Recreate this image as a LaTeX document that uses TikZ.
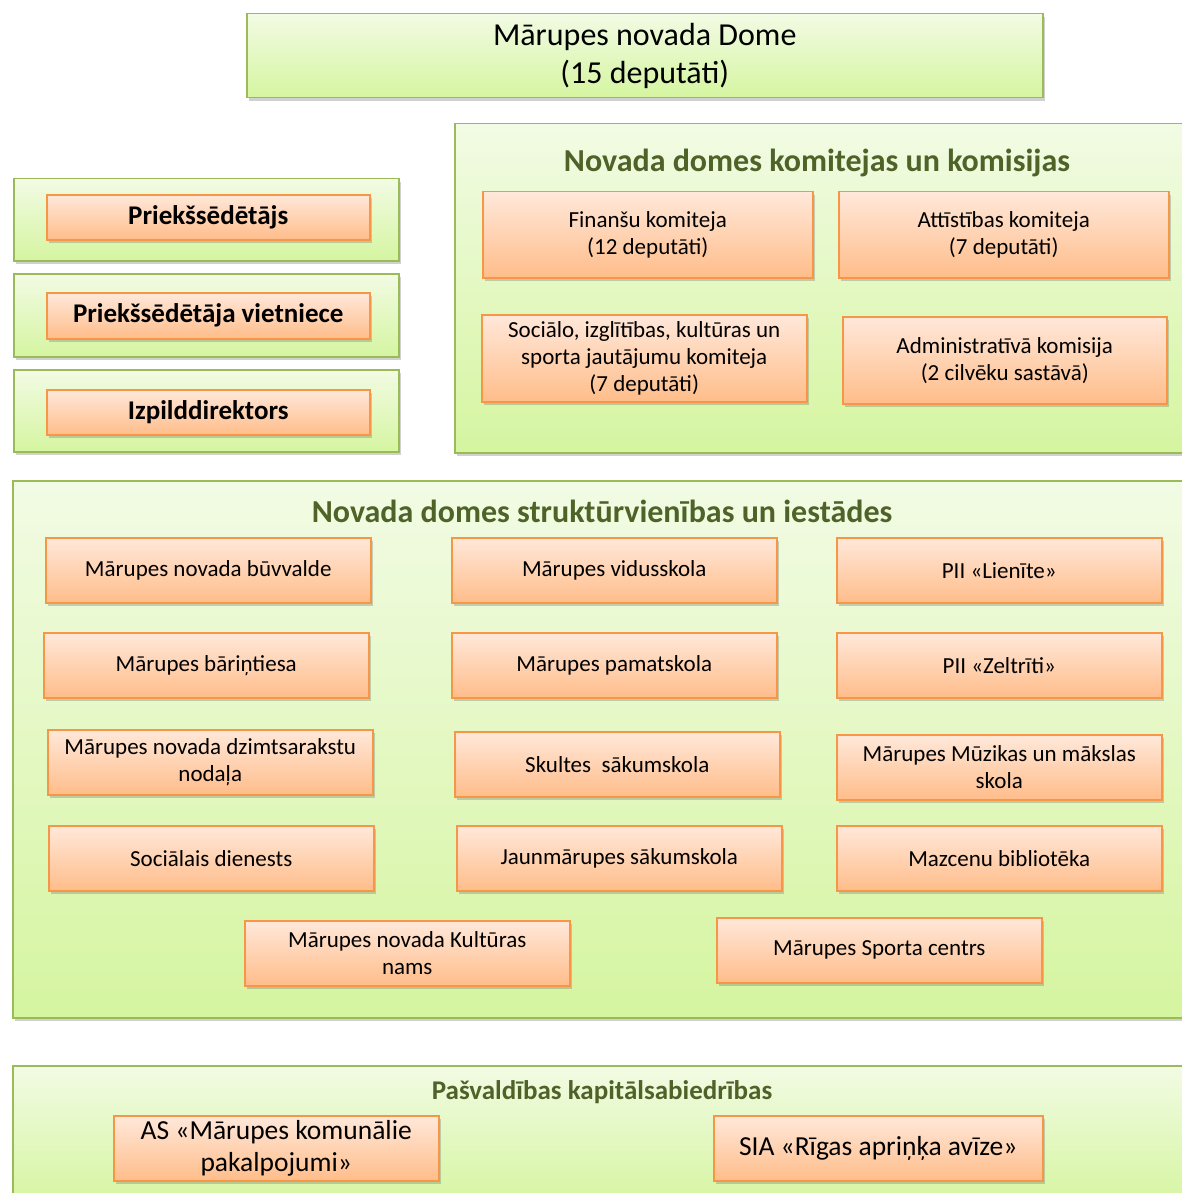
\documentclass[tikz,border=0pt]{standalone}
\usepackage{fontspec}
\setmainfont{Carlito}
\usetikzlibrary{shadows}
\definecolor{greenline}{HTML}{9BBB59}
\definecolor{greentop}{HTML}{F2FBE4}
\definecolor{greenbot}{HTML}{D5F5A0}
\definecolor{orangeline}{HTML}{F79646}
\definecolor{orangetop}{HTML}{FFE8DA}
\definecolor{orangebot}{HTML}{FFBD8A}
\definecolor{titlegreen}{HTML}{4F6228}

\begin{document}
\begin{tikzpicture}[x=1pt, y=-1pt,
    panel/.style = {draw=greenline, line width=1.5pt, top color=greentop, bottom color=greenbot,
        anchor=north west, inner sep=0pt, align=center,
        drop shadow={shadow xshift=2pt, shadow yshift=-3pt, opacity=0.3, fill=black!60}},
    obox/.style = {draw=orangeline, line width=1.5pt, top color=orangetop, bottom color=orangebot,
        anchor=north west, inner sep=0pt, align=center, minimum width=325, minimum height=65,
        font=\fontsize{23}{27}\selectfont,
        drop shadow={shadow xshift=2pt, shadow yshift=-3pt, opacity=0.3, fill=black!60}},
    chief/.style = {obox, minimum width=323, minimum height=45, font=\fontsize{27}{30}\selectfont\bfseries},
    heading/.style = {text=titlegreen, font=\fontsize{32}{36}\selectfont\bfseries}]
    % page
    \useasboundingbox (0,0) rectangle (1181,1193);
    % dome
    \node[panel, minimum width=796, minimum height=84, font=\fontsize{32}{38}\selectfont] (dome) at (246,13) {M\=arupes novada Dome\\(15 deput\=ati)};
    % leadership
    \node[panel, minimum width=385, minimum height=82] (chairpanel) at (13,178) {};
    \node[panel, minimum width=385, minimum height=83] (deputypanel) at (13,273) {};
    \node[panel, minimum width=385, minimum height=82] (directorpanel) at (13,369) {};
    \node[chief] (chair) at (46,194) {Priekšsēdētājs};
    \node[chief, minimum height=46] (deputy) at (46,292) {Priekšsēdētāja vietniece};
    \node[chief] (director) at (46,389) {Izpilddirektors};
    % committees
    \node[panel, minimum width=740, minimum height=329] (committees) at (454,123) {};
    \node[heading] (committeestitle) at (817,163) {Novada domes komitejas un komisijas};
    \node[obox, minimum width=330, minimum height=86] (finance) at (482,191) {Finanšu komiteja\\(12 deputāti)};
    \node[obox, minimum width=330, minimum height=86] (development) at (838,191) {Attīstības komiteja\\(7 deputāti)};
    \node[obox, minimum height=87] (social) at (481,314) {Sociālo, izglītības, kultūras un\\sporta jautājumu komiteja\\(7 deputāti)};
    \node[obox, minimum width=324, minimum height=87] (admin) at (842,316) {Administratīvā komisija\\(2 cilvēku sastāvā)};
    % units
    \node[panel, minimum width=1180, minimum height=537] (units) at (12,480) {};
    \node[heading] (unitstitle) at (602,511) {Novada domes struktūrvienības un iestādes};
    \node[obox] (building) at (45,537) {Mārupes novada būvvalde};
    \node[obox] (midschool) at (451,537) {Mārupes vidusskola};
    \node[obox] (lienite) at (836,537) {PII «Lienīte»};
    \node[obox] (orphans) at (43,632) {Mārupes bāriņtiesa};
    \node[obox] (basicschool) at (451,632) {Mārupes pamatskola};
    \node[obox] (zeltriti) at (836,632) {PII «Zeltrīti»};
    \node[obox] (registry) at (47,729) {Mārupes novada dzimtsarakstu\\nodaļa};
    \node[obox] (skulte) at (454,731) {Skultes\ \ sākumskola};
    \node[obox] (music) at (836,734) {Mārupes Mūzikas un mākslas\\skola};
    \node[obox] (socialservice) at (48,825) {Sociālais dienests};
    \node[obox] (jaunmarupe) at (456,825) {Jaunmārupes sākumskola};
    \node[obox] (library) at (836,825) {Mazcenu bibliotēka};
    \node[obox] (culture) at (244,920) {Mārupes novada Kultūras\\nams};
    \node[obox] (sport) at (716,917) {Mārupes Sporta centrs};
    % companies
    \node[panel, minimum width=1180, minimum height=140] (companies) at (12,1065) {};
    \node[heading, font=\fontsize{27}{30}\selectfont\bfseries] (companiestitle) at (602,1092) {Pašvaldības kapitālsabiedrības};
    \node[obox, font=\fontsize{27.5}{32}\selectfont] (utilities) at (113,1115) {AS «Mārupes komunālie\\pakalpojumi»};
    \node[obox, minimum width=329, font=\fontsize{27.5}{32}\selectfont] (newspaper) at (713,1115) {SIA «Rīgas apriņķa avīze»};
\end{tikzpicture}
\end{document}
